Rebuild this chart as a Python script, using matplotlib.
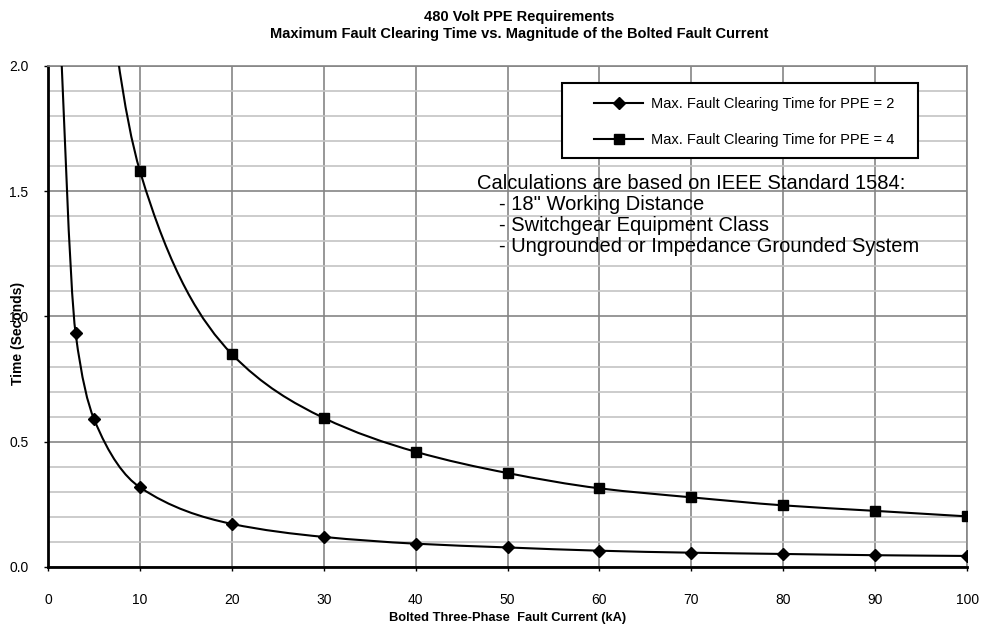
import matplotlib
matplotlib.use("Agg")
import matplotlib.pyplot as plt
from matplotlib.path import Path
from matplotlib.patches import PathPatch, Rectangle
from matplotlib.lines import Line2D
from matplotlib.ticker import MultipleLocator, FormatStrFormatter

# Dados (kA -> segundos)
corrente_ppe2 = [1, 3, 5, 10, 20, 30, 40, 50, 60, 70, 80, 90, 100]
tempo_ppe2 = [2.4, 0.933, 0.591, 0.318, 0.172, 0.120, 0.093, 0.078, 0.065, 0.057, 0.052, 0.047, 0.044]

corrente_ppe4 = [3, 5, 10, 20, 30, 40, 50, 60, 70, 80, 90, 100]
tempo_ppe4 = [4.6, 2.93, 1.581, 0.850, 0.595, 0.460, 0.375, 0.314, 0.278, 0.246, 0.224, 0.202]

rotulo_ppe2 = "Max. Fault Clearing Time for PPE = 2"
rotulo_ppe4 = "Max. Fault Clearing Time for PPE = 4"

titulo = "480 Volt PPE Requirements\nMaximum Fault Clearing Time vs. Magnitude of the Bolted Fault Current"
notas = ["- 18\" Working Distance",
         "- Switchgear Equipment Class",
         "- Ungrounded or Impedance Grounded System"]

plt.rcParams['font.family'] = ['Liberation Sans', 'DejaVu Sans']


def curva_suave(xs, ys):
    # linha suavizada (Hermite monótona, tipo PCHIP, escrita como Bezier)
    n = len(xs)
    h = [xs[i + 1] - xs[i] for i in range(n - 1)]
    d = [(ys[i + 1] - ys[i]) / h[i] for i in range(n - 1)]
    m = [0.0] * n
    for i in range(1, n - 1):
        if d[i - 1] * d[i] <= 0:
            m[i] = 0.0
        else:
            w1 = 2 * h[i] + h[i - 1]
            w2 = h[i] + 2 * h[i - 1]
            m[i] = (w1 + w2) / (w1 / d[i - 1] + w2 / d[i])
    m[0] = d[0]
    m[-1] = d[-1]
    verts = [(xs[0], ys[0])]
    codes = [Path.MOVETO]
    for i in range(n - 1):
        c1 = (xs[i] + h[i] / 3, ys[i] + m[i] * h[i] / 3)
        c2 = (xs[i + 1] - h[i] / 3, ys[i + 1] - m[i + 1] * h[i] / 3)
        verts += [c1, c2, (xs[i + 1], ys[i + 1])]
        codes += [Path.CURVE4] * 3
    return Path(verts, codes)


def main():
    fig = plt.figure(figsize=(9.82, 6.29), dpi=100)
    ax = fig.add_axes([0.0489, 0.0986, 0.9359, 0.7965])

    ax.set_xlim(0, 100)
    ax.set_ylim(0, 2.0)

    # grade
    ax.xaxis.set_major_locator(MultipleLocator(10))
    ax.yaxis.set_major_locator(MultipleLocator(0.5))
    ax.yaxis.set_minor_locator(MultipleLocator(0.1))
    ax.grid(True, which='minor', axis='y', color='#c4c4c4', lw=1.2)
    ax.grid(True, which='major', axis='y', color='#858585', lw=1.2)
    ax.grid(True, which='major', axis='x', color='#858585', lw=1.2)
    ax.set_axisbelow(True)

    for lado in ['top', 'right']:
        ax.spines[lado].set_color('#858585')
        ax.spines[lado].set_linewidth(1.2)
    for lado in ['left', 'bottom']:
        ax.spines[lado].set_color('black')
        ax.spines[lado].set_linewidth(2.0)

    ax.tick_params(axis='y', which='major', direction='out', length=3, width=1,
                   labelsize=10, pad=11)
    ax.tick_params(axis='y', which='minor', length=0)
    ax.tick_params(axis='x', which='major', direction='out', length=3, width=1,
                   labelsize=10, pad=16)
    ax.yaxis.set_major_formatter(FormatStrFormatter('%.1f'))

    # curvas
    for xs, ys in [(corrente_ppe2, tempo_ppe2), (corrente_ppe4, tempo_ppe4)]:
        ax.add_patch(PathPatch(curva_suave(xs, ys), facecolor='none',
                               edgecolor='black', lw=1.5, zorder=3))
    ax.plot(corrente_ppe2, tempo_ppe2, ls='none', marker='D', ms=6,
            color='black', zorder=4)
    ax.plot(corrente_ppe4, tempo_ppe4, ls='none', marker='s', ms=6.5,
            color='black', zorder=4)

    # legenda (moldura desenhada à parte, como no Excel)
    ax.add_patch(Rectangle((0.5593, 0.8164), 0.3874, 0.1497, transform=ax.transAxes,
                           facecolor='white', edgecolor='black', lw=1.5,
                           zorder=4.5, clip_on=False))
    alcas = [Line2D([], [], color='black', lw=1.5, marker='D', ms=6),
             Line2D([], [], color='black', lw=1.5, marker='s', ms=6.5)]
    leg = ax.legend(alcas, [rotulo_ppe2, rotulo_ppe4], loc='center',
                    bbox_to_anchor=(0.7579, 0.8882), fontsize=10.5,
                    handlelength=3.3, handletextpad=0.6, labelspacing=1.55,
                    borderpad=0, frameon=False)
    leg.set_zorder(5)

    # texto de observações
    ax.text(0.4668, 0.7545, "Calculations are based on IEEE Standard 1584:",
            transform=ax.transAxes, fontsize=14.5, va='baseline', ha='left')
    ys_notas = [0.7132, 0.6713, 0.6293]
    for y, nota in zip(ys_notas, notas):
        ax.text(0.4908, y, nota, transform=ax.transAxes, fontsize=14.5,
                va='baseline', ha='left')

    # rótulos
    ax.set_xlabel("Bolted Three-Phase  Fault Current (kA)", fontsize=9.3,
                  fontweight='bold', va='center')
    ax.xaxis.set_label_coords(0.5, -0.1018)
    ax.set_ylabel("Time (Seconds)", fontsize=10, fontweight='bold', va='center')
    ax.yaxis.set_label_coords(-0.0326, 0.467)

    fig.text(0.5285, 0.9595, titulo, fontsize=10.5, fontweight='bold',
             ha='center', va='center', linespacing=1.2)

    fig.savefig("out.png", dpi=100, facecolor='white')


if __name__ == '__main__':
    main()
